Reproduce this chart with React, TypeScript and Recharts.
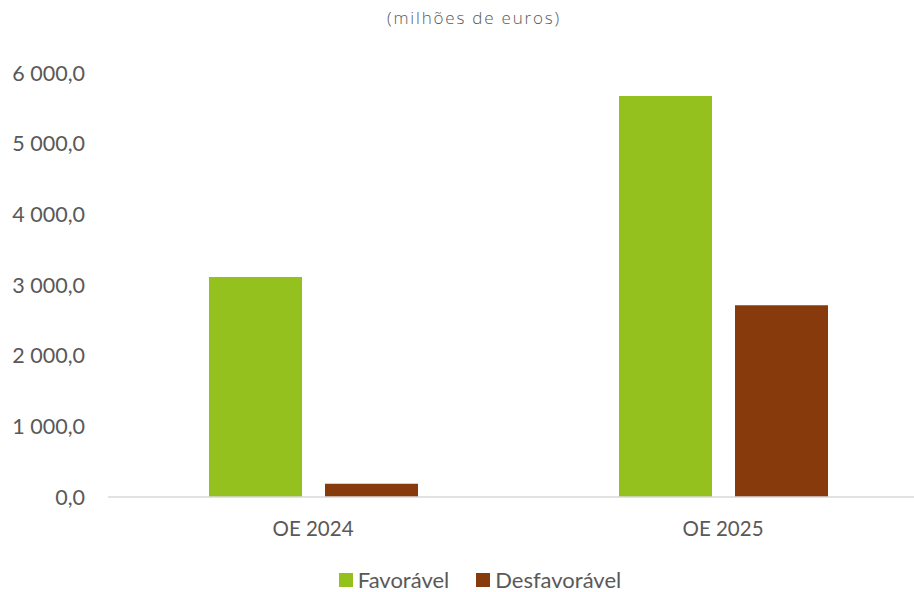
import { Bar, BarChart, Legend, XAxis, YAxis } from "recharts";

const categories = ["OE 2024", "OE 2025"];
const favoravel = [3113, 5674];
const desfavoravel = [188, 2715];
const yTicks = [0, 1000, 2000, 3000, 4000, 5000, 6000];

const series = [
  { key: "favoravel", name: "Favorável", color: "#95C11F" },
  { key: "desfavoravel", name: "Desfavorável", color: "#873B0D" },
];

const data = categories.map((name, i) => ({
  name,
  favoravel: favoravel[i],
  desfavoravel: desfavoravel[i],
}));

const textColor = "#595959";
const font = "Lato, 'Open Sans', sans-serif";

// "6 000,0" style labels, pt-PT
const fmt = (v: number) => {
  const [int, dec] = v.toFixed(1).split(".");
  return int.replace(/\B(?=(\d{3})+(?!\d))/g, " ") + "," + dec;
};

function LegendContent() {
  return (
    <div
      style={{
        display: "flex",
        justifyContent: "center",
        alignItems: "center",
        gap: 27,
        fontFamily: font,
        fontSize: 22,
        lineHeight: "22px",
        color: textColor,
      }}
    >
      {series.map((s) => (
        <div key={s.key} style={{ display: "flex", alignItems: "center", gap: 5 }}>
          <span style={{ width: 14, height: 14, background: s.color, display: "inline-block" }} />
          <span>{s.name}</span>
        </div>
      ))}
    </div>
  );
}

export default function App() {
  return (
    <div
      style={{
        position: "absolute",
        left: 0,
        top: 0,
        width: 914,
        height: 592,
        overflow: "hidden",
        background: "#fff",
      }}
    >
      <div
        style={{
          position: "absolute",
          top: 6,
          left: 0,
          width: 948,
          textAlign: "center",
          fontFamily: "'Open Sans', sans-serif",
          fontWeight: 300,
          fontSize: 17,
          letterSpacing: 1.8,
          color: textColor,
        }}
      >
        (milhões de euros)
      </div>
      <BarChart
        width={930}
        height={592}
        data={data}
        margin={{ top: 73, right: 2, bottom: 55, left: 0 }}
        barSize={93}
        barGap={23}
      >
        <XAxis
          dataKey="name"
          height={40}
          tickLine={false}
          axisLine={{ stroke: "#D9D9D9", strokeWidth: 1.5 }}
          tickMargin={18}
          tick={{ fill: textColor, fontSize: 20.5, fontFamily: font }}
        />
        <YAxis
          width={108}
          domain={[0, 6000]}
          ticks={yTicks}
          tickFormatter={fmt}
          axisLine={false}
          tickLine={false}
          tickMargin={17}
          tick={{ fill: textColor, fontSize: 21.5, fontFamily: font }}
        />
        <Legend
          verticalAlign="middle"
          align="center"
          content={<LegendContent />}
          wrapperStyle={{ top: 569, left: 0, width: 960 }}
        />
        {series.map((s) => (
          <Bar
            key={s.key}
            dataKey={s.key}
            name={s.name}
            fill={s.color}
            isAnimationActive={false}
          />
        ))}
      </BarChart>
    </div>
  );
}
